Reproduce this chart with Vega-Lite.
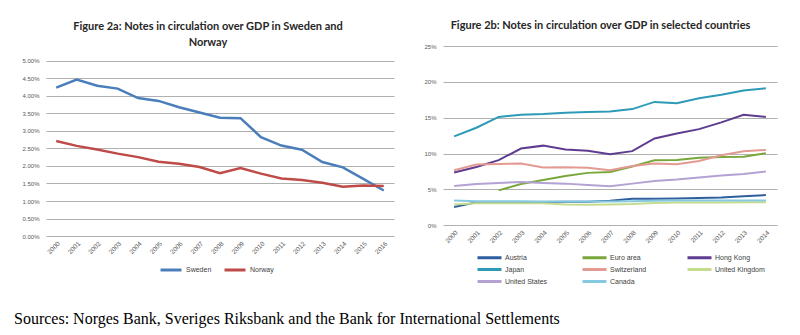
{
  "$schema": "https://vega.github.io/schema/vega-lite/v6.json",
  "background": "white",
  "padding": {"left": 13, "top": 20, "right": 5, "bottom": 3},
  "title": {"text": "Sources: Norges Bank, Sveriges Riksbank and the Bank for International Settlements", "orient": "bottom", "anchor": "start", "frame": "bounds", "font": "Liberation Serif", "fontSize": 16, "fontWeight": "normal", "color": "#000000", "offset": 23, "dx": -8},
  "datasets": {
    "left": [
      {"country": "Sweden", "year": "2000", "value": 0.0423},
      {"country": "Sweden", "year": "2001", "value": 0.0446},
      {"country": "Sweden", "year": "2002", "value": 0.0428},
      {"country": "Sweden", "year": "2003", "value": 0.0420},
      {"country": "Sweden", "year": "2004", "value": 0.0393},
      {"country": "Sweden", "year": "2005", "value": 0.0385},
      {"country": "Sweden", "year": "2006", "value": 0.0367},
      {"country": "Sweden", "year": "2007", "value": 0.0352},
      {"country": "Sweden", "year": "2008", "value": 0.0337},
      {"country": "Sweden", "year": "2009", "value": 0.0336},
      {"country": "Sweden", "year": "2010", "value": 0.0282},
      {"country": "Sweden", "year": "2011", "value": 0.0258},
      {"country": "Sweden", "year": "2012", "value": 0.0246},
      {"country": "Sweden", "year": "2013", "value": 0.0211},
      {"country": "Sweden", "year": "2014", "value": 0.0196},
      {"country": "Sweden", "year": "2015", "value": 0.0163},
      {"country": "Sweden", "year": "2016", "value": 0.0130},
      {"country": "Norway", "year": "2000", "value": 0.0271},
      {"country": "Norway", "year": "2001", "value": 0.0257},
      {"country": "Norway", "year": "2002", "value": 0.0247},
      {"country": "Norway", "year": "2003", "value": 0.0235},
      {"country": "Norway", "year": "2004", "value": 0.0225},
      {"country": "Norway", "year": "2005", "value": 0.0212},
      {"country": "Norway", "year": "2006", "value": 0.0206},
      {"country": "Norway", "year": "2007", "value": 0.0197},
      {"country": "Norway", "year": "2008", "value": 0.0179},
      {"country": "Norway", "year": "2009", "value": 0.0194},
      {"country": "Norway", "year": "2010", "value": 0.0178},
      {"country": "Norway", "year": "2011", "value": 0.0164},
      {"country": "Norway", "year": "2012", "value": 0.0160},
      {"country": "Norway", "year": "2013", "value": 0.0152},
      {"country": "Norway", "year": "2014", "value": 0.0141},
      {"country": "Norway", "year": "2015", "value": 0.0144},
      {"country": "Norway", "year": "2016", "value": 0.0143}
    ],
    "right": [
      {"country": "Austria", "year": "2000", "value": 0.0255},
      {"country": "Austria", "year": "2001", "value": 0.0320},
      {"country": "Austria", "year": "2002", "value": 0.0322},
      {"country": "Austria", "year": "2003", "value": 0.0320},
      {"country": "Austria", "year": "2004", "value": 0.0325},
      {"country": "Austria", "year": "2005", "value": 0.0327},
      {"country": "Austria", "year": "2006", "value": 0.0328},
      {"country": "Austria", "year": "2007", "value": 0.0340},
      {"country": "Austria", "year": "2008", "value": 0.0368},
      {"country": "Austria", "year": "2009", "value": 0.0370},
      {"country": "Austria", "year": "2010", "value": 0.0374},
      {"country": "Austria", "year": "2011", "value": 0.0378},
      {"country": "Austria", "year": "2012", "value": 0.0388},
      {"country": "Austria", "year": "2013", "value": 0.0405},
      {"country": "Austria", "year": "2014", "value": 0.0420},
      {"country": "Euro area", "year": "2002", "value": 0.0486},
      {"country": "Euro area", "year": "2003", "value": 0.0575},
      {"country": "Euro area", "year": "2004", "value": 0.0630},
      {"country": "Euro area", "year": "2005", "value": 0.0687},
      {"country": "Euro area", "year": "2006", "value": 0.0730},
      {"country": "Euro area", "year": "2007", "value": 0.0743},
      {"country": "Euro area", "year": "2008", "value": 0.0820},
      {"country": "Euro area", "year": "2009", "value": 0.0905},
      {"country": "Euro area", "year": "2010", "value": 0.0910},
      {"country": "Euro area", "year": "2011", "value": 0.0940},
      {"country": "Euro area", "year": "2012", "value": 0.0953},
      {"country": "Euro area", "year": "2013", "value": 0.0955},
      {"country": "Euro area", "year": "2014", "value": 0.1005},
      {"country": "Hong Kong", "year": "2000", "value": 0.0734},
      {"country": "Hong Kong", "year": "2001", "value": 0.0813},
      {"country": "Hong Kong", "year": "2002", "value": 0.0907},
      {"country": "Hong Kong", "year": "2003", "value": 0.1070},
      {"country": "Hong Kong", "year": "2004", "value": 0.1110},
      {"country": "Hong Kong", "year": "2005", "value": 0.1056},
      {"country": "Hong Kong", "year": "2006", "value": 0.1037},
      {"country": "Hong Kong", "year": "2007", "value": 0.0990},
      {"country": "Hong Kong", "year": "2008", "value": 0.1033},
      {"country": "Hong Kong", "year": "2009", "value": 0.1210},
      {"country": "Hong Kong", "year": "2010", "value": 0.1280},
      {"country": "Hong Kong", "year": "2011", "value": 0.1340},
      {"country": "Hong Kong", "year": "2012", "value": 0.1435},
      {"country": "Hong Kong", "year": "2013", "value": 0.1540},
      {"country": "Hong Kong", "year": "2014", "value": 0.1510},
      {"country": "Japan", "year": "2000", "value": 0.1240},
      {"country": "Japan", "year": "2001", "value": 0.1360},
      {"country": "Japan", "year": "2002", "value": 0.1510},
      {"country": "Japan", "year": "2003", "value": 0.1540},
      {"country": "Japan", "year": "2004", "value": 0.1550},
      {"country": "Japan", "year": "2005", "value": 0.1570},
      {"country": "Japan", "year": "2006", "value": 0.1580},
      {"country": "Japan", "year": "2007", "value": 0.1585},
      {"country": "Japan", "year": "2008", "value": 0.1620},
      {"country": "Japan", "year": "2009", "value": 0.1720},
      {"country": "Japan", "year": "2010", "value": 0.1700},
      {"country": "Japan", "year": "2011", "value": 0.1770},
      {"country": "Japan", "year": "2012", "value": 0.1820},
      {"country": "Japan", "year": "2013", "value": 0.1880},
      {"country": "Japan", "year": "2014", "value": 0.1910},
      {"country": "Switzerland", "year": "2000", "value": 0.0766},
      {"country": "Switzerland", "year": "2001", "value": 0.0846},
      {"country": "Switzerland", "year": "2002", "value": 0.0855},
      {"country": "Switzerland", "year": "2003", "value": 0.0860},
      {"country": "Switzerland", "year": "2004", "value": 0.0804},
      {"country": "Switzerland", "year": "2005", "value": 0.0808},
      {"country": "Switzerland", "year": "2006", "value": 0.0800},
      {"country": "Switzerland", "year": "2007", "value": 0.0766},
      {"country": "Switzerland", "year": "2008", "value": 0.0827},
      {"country": "Switzerland", "year": "2009", "value": 0.0860},
      {"country": "Switzerland", "year": "2010", "value": 0.0850},
      {"country": "Switzerland", "year": "2011", "value": 0.0897},
      {"country": "Switzerland", "year": "2012", "value": 0.0977},
      {"country": "Switzerland", "year": "2013", "value": 0.1033},
      {"country": "Switzerland", "year": "2014", "value": 0.1050},
      {"country": "United Kingdom", "year": "2000", "value": 0.0290},
      {"country": "United Kingdom", "year": "2001", "value": 0.0305},
      {"country": "United Kingdom", "year": "2002", "value": 0.0305},
      {"country": "United Kingdom", "year": "2003", "value": 0.0305},
      {"country": "United Kingdom", "year": "2004", "value": 0.0305},
      {"country": "United Kingdom", "year": "2005", "value": 0.0288},
      {"country": "United Kingdom", "year": "2006", "value": 0.0285},
      {"country": "United Kingdom", "year": "2007", "value": 0.0290},
      {"country": "United Kingdom", "year": "2008", "value": 0.0295},
      {"country": "United Kingdom", "year": "2009", "value": 0.0310},
      {"country": "United Kingdom", "year": "2010", "value": 0.0315},
      {"country": "United Kingdom", "year": "2011", "value": 0.0315},
      {"country": "United Kingdom", "year": "2012", "value": 0.0315},
      {"country": "United Kingdom", "year": "2013", "value": 0.0320},
      {"country": "United Kingdom", "year": "2014", "value": 0.0320},
      {"country": "United States", "year": "2000", "value": 0.0547},
      {"country": "United States", "year": "2001", "value": 0.0575},
      {"country": "United States", "year": "2002", "value": 0.0590},
      {"country": "United States", "year": "2003", "value": 0.0603},
      {"country": "United States", "year": "2004", "value": 0.0590},
      {"country": "United States", "year": "2005", "value": 0.0580},
      {"country": "United States", "year": "2006", "value": 0.0560},
      {"country": "United States", "year": "2007", "value": 0.0542},
      {"country": "United States", "year": "2008", "value": 0.0580},
      {"country": "United States", "year": "2009", "value": 0.0617},
      {"country": "United States", "year": "2010", "value": 0.0636},
      {"country": "United States", "year": "2011", "value": 0.0664},
      {"country": "United States", "year": "2012", "value": 0.0692},
      {"country": "United States", "year": "2013", "value": 0.0715},
      {"country": "United States", "year": "2014", "value": 0.0748},
      {"country": "Canada", "year": "2000", "value": 0.0345},
      {"country": "Canada", "year": "2001", "value": 0.0335},
      {"country": "Canada", "year": "2002", "value": 0.0335},
      {"country": "Canada", "year": "2003", "value": 0.0335},
      {"country": "Canada", "year": "2004", "value": 0.0330},
      {"country": "Canada", "year": "2005", "value": 0.0330},
      {"country": "Canada", "year": "2006", "value": 0.0330},
      {"country": "Canada", "year": "2007", "value": 0.0330},
      {"country": "Canada", "year": "2008", "value": 0.0335},
      {"country": "Canada", "year": "2009", "value": 0.0340},
      {"country": "Canada", "year": "2010", "value": 0.0345},
      {"country": "Canada", "year": "2011", "value": 0.0345},
      {"country": "Canada", "year": "2012", "value": 0.0345},
      {"country": "Canada", "year": "2013", "value": 0.0345},
      {"country": "Canada", "year": "2014", "value": 0.0345}
    ]
  },
  "spacing": 29,
  "resolve": {"scale": {"color": "independent", "y": "independent", "x": "independent"}},
  "hconcat": [
    {
      "width": 348,
      "height": 190.2,
      "title": {"text": ["Figure 2a: Notes in circulation over GDP in Sweden and", "Norway"], "font": "Lato", "fontSize": 11, "fontWeight": "bold", "lineHeight": 16, "frame": "bounds", "anchor": "middle", "offset": -1.5, "color": "#262626"},
      "data": {"name": "left"},
      "mark": {"type": "line", "strokeWidth": 2.5},
      "encoding": {
        "x": {"field": "year", "type": "ordinal", "axis": {"title": null, "labelAngle": -45, "labelFontSize": 6.5, "grid": false, "domain": false, "ticks": false, "labelPadding": 4}},
        "y": {"field": "value", "type": "quantitative", "scale": {"domain": [0, 0.054127], "nice": false}, "axis": {"title": null, "values": [0, 0.005, 0.01, 0.015, 0.02, 0.025, 0.03, 0.035, 0.04, 0.045, 0.05], "format": ".2%", "grid": true, "labelPadding": 7}},
        "color": {"field": "country", "type": "nominal", "scale": {"domain": ["Sweden", "Norway"], "range": ["#4a7ebb", "#be4b48"]},
          "legend": {"title": null, "orient": "none", "legendX": 113, "legendY": 212, "direction": "horizontal", "symbolType": "stroke", "symbolSize": 441, "symbolStrokeWidth": 3, "labelFont": "Liberation Sans", "labelFontSize": 7, "labelColor": "#404040", "labelOffset": 3, "columnPadding": 6}}
      }
    },
    {
      "width": 334,
      "height": 179.2,
      "title": {"text": "Figure 2b: Notes in circulation over GDP in selected countries", "font": "Lato", "fontSize": 11, "fontWeight": "bold", "lineHeight": 16, "frame": "bounds", "anchor": "middle", "offset": 12, "color": "#262626"},
      "data": {"name": "right"},
      "mark": {"type": "line", "strokeWidth": 2},
      "encoding": {
        "x": {"field": "year", "type": "ordinal", "axis": {"title": null, "labelAngle": -45, "labelFontSize": 6.5, "grid": false, "domain": false, "ticks": false, "labelPadding": 4}},
        "y": {"field": "value", "type": "quantitative", "scale": {"domain": [0, 0.25]}, "axis": {"title": null, "values": [0, 0.05, 0.1, 0.15, 0.2, 0.25], "format": ".0%", "grid": true, "labelPadding": 7}},
        "color": {"field": "country", "type": "nominal", "scale": {"domain": ["Austria", "Euro area", "Hong Kong", "Japan", "Switzerland", "United Kingdom", "United States", "Canada"], "range": ["#2f5f9e", "#7aa73c", "#5e3c8f", "#2d9bb8", "#e39a92", "#c5dc8f", "#b3a2d3", "#86c9e0"]},
          "legend": {"title": null, "orient": "none", "legendX": 41, "legendY": 206, "columns": 3, "direction": "horizontal", "gridAlign": "all", "columnPadding": 21, "rowPadding": -3.3, "symbolType": "M-3,0H3", "symbolSize": 64, "symbolStrokeWidth": 3, "labelFont": "Liberation Sans", "labelFontSize": 7, "labelColor": "#404040", "labelOffset": 10}}
      }
    }
  ],
  "config": {
    "view": {"stroke": null},
    "axis": {"labelFont": "Liberation Sans", "labelFontSize": 6, "labelColor": "#595959", "domain": false, "ticks": false, "gridColor": "#b0b0b0", "gridWidth": 1}
  }
}
